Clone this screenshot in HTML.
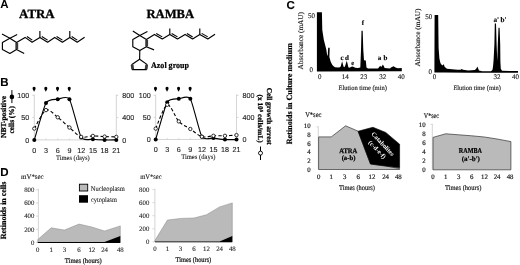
<!DOCTYPE html><html><head><meta charset="utf-8"><style>html,body{margin:0;padding:0;background:#fff;width:520px;height:265px;overflow:hidden}svg{display:block;will-change:transform}text{text-rendering:geometricPrecision}</style></head><body>
<svg width="520" height="265" viewBox="0 0 520 265">
<rect width="520" height="265" fill="#fff"/>
<text x="0.3" y="7.7" font-family='"Liberation Sans", sans-serif' font-size="11.5" font-weight="bold" text-anchor="start" fill="#000" >A</text>
<text x="19.1" y="18.1" font-family='"Liberation Serif", serif' font-size="12.5" font-weight="bold" text-anchor="start" fill="#000" stroke="#000" stroke-width="0.3" textLength="35.6" lengthAdjust="spacingAndGlyphs">ATRA</text>
<text x="146.4" y="18.1" font-family='"Liberation Serif", serif' font-size="12.5" font-weight="bold" text-anchor="start" fill="#000" stroke="#000" stroke-width="0.3" textLength="47.8" lengthAdjust="spacingAndGlyphs">RAMBA</text>
<polyline points="9.9,38.2 16.5,42.6 16.5,49.4 9.9,53.4 2.4,49.4 2.4,42.6 9.9,38.2" fill="none" stroke="#000" stroke-width="1.15" stroke-linejoin="round" fill="none"/>
<line x1="9.9" y1="38.2" x2="2.0" y2="34.0" stroke="#000" stroke-width="1.15" />
<line x1="9.9" y1="38.2" x2="17.2" y2="34.4" stroke="#000" stroke-width="1.15" />
<line x1="16.5" y1="49.4" x2="24.2" y2="53.4" stroke="#000" stroke-width="1.15" />
<line x1="16.8" y1="42.9" x2="16.8" y2="49.1" stroke="#3a3a3a" stroke-width="2.8" />
<polyline points="16.5,42.6 25.1,37.4 32.1,42.2 39.9,37.4 47.6,42.2 54.7,37.4 62.4,42.2 69.8,37.4 77.2,42.2 84.6,37.2" fill="none" stroke="#000" stroke-width="1.15" stroke-linejoin="round" />
<line x1="39.9" y1="37.4" x2="39.9" y2="31.0" stroke="#000" stroke-width="1.15" />
<line x1="69.8" y1="37.4" x2="69.8" y2="31.0" stroke="#000" stroke-width="1.15" />
<line x1="26.96" y1="36.49" x2="32.28" y2="40.14" stroke="#000" stroke-width="1.1" />
<line x1="41.78" y1="36.45" x2="47.63" y2="40.10" stroke="#000" stroke-width="1.1" />
<line x1="56.58" y1="36.45" x2="62.43" y2="40.10" stroke="#000" stroke-width="1.1" />
<line x1="71.67" y1="36.47" x2="77.29" y2="40.11" stroke="#000" stroke-width="1.1" />
<polyline points="139.8,35.4 146.4,39.6 146.4,46.7 139.8,50.5 132.8,46.7 132.8,39.6 139.8,35.4" fill="none" stroke="#000" stroke-width="1.15" stroke-linejoin="round" />
<line x1="139.8" y1="35.4" x2="132.8" y2="31.0" stroke="#000" stroke-width="1.15" />
<line x1="139.8" y1="35.4" x2="147.4" y2="31.4" stroke="#000" stroke-width="1.15" />
<line x1="146.4" y1="46.7" x2="154.0" y2="49.9" stroke="#000" stroke-width="1.15" />
<line x1="146.70000000000002" y1="39.9" x2="146.70000000000002" y2="46.400000000000006" stroke="#3a3a3a" stroke-width="2.8" />
<polyline points="146.4,39.6 154.4,34.4 162.3,39.0 169.8,34.4 177.5,39.0 185.1,34.4 192.6,39.0 199.8,34.4 207.8,39.0 215.0,34.2" fill="none" stroke="#000" stroke-width="1.15" stroke-linejoin="round" />
<line x1="169.8" y1="34.4" x2="169.8" y2="28.4" stroke="#000" stroke-width="1.15" />
<line x1="199.8" y1="34.4" x2="199.8" y2="28.4" stroke="#000" stroke-width="1.15" />
<line x1="156.25" y1="33.40" x2="162.26" y2="36.89" stroke="#000" stroke-width="1.1" />
<line x1="171.65" y1="33.41" x2="177.50" y2="36.90" stroke="#000" stroke-width="1.1" />
<line x1="186.94" y1="33.42" x2="192.64" y2="36.91" stroke="#000" stroke-width="1.1" />
<line x1="201.66" y1="33.39" x2="207.74" y2="36.89" stroke="#000" stroke-width="1.1" />
<line x1="139.8" y1="50.5" x2="139.6" y2="59.2" stroke="#000" stroke-width="1.15" />
<polygon points="139.6,59.2 146.9,64.4 146.3,69.6 132.5,69.6 131.9,64.4" fill="none" stroke="#000" stroke-width="1.15" stroke-linejoin="round"/>
<line x1="146.70000000000002" y1="64.80000000000001" x2="146.10000000000002" y2="69.19999999999999" stroke="#3a3a3a" stroke-width="2.8" />
<line x1="132.1" y1="64.80000000000001" x2="132.7" y2="69.19999999999999" stroke="#3a3a3a" stroke-width="2.8" />
<text x="151" y="68.1" font-family='"Liberation Serif", serif' font-size="8.6" font-weight="bold" text-anchor="start" fill="#000" stroke="#000" stroke-width="0.2" textLength="38" lengthAdjust="spacingAndGlyphs">Azol group</text>
<text x="0.3" y="86.4" font-family='"Liberation Sans", sans-serif' font-size="11.5" font-weight="bold" text-anchor="start" fill="#000" stroke="#000" stroke-width="0.12" >B</text>
<line x1="34.3" y1="94.8" x2="34.3" y2="139.9" stroke="#d0d0d0" stroke-width="0.9" />
<line x1="34.3" y1="139.9" x2="116.3" y2="139.9" stroke="#d0d0d0" stroke-width="0.9" />
<line x1="116.3" y1="94.5" x2="116.3" y2="139.9" stroke="#d0d0d0" stroke-width="0.9" />
<line x1="32.3" y1="95.3" x2="34.3" y2="95.3" stroke="#d0d0d0" stroke-width="0.9" />
<line x1="116.3" y1="95.3" x2="118.3" y2="95.3" stroke="#d0d0d0" stroke-width="0.9" />
<line x1="32.3" y1="117.6" x2="34.3" y2="117.6" stroke="#d0d0d0" stroke-width="0.9" />
<line x1="116.3" y1="117.6" x2="118.3" y2="117.6" stroke="#d0d0d0" stroke-width="0.9" />
<line x1="46.01428571428571" y1="139.9" x2="46.01428571428571" y2="138.4" stroke="#d0d0d0" stroke-width="0.8" />
<line x1="57.72857142857143" y1="139.9" x2="57.72857142857143" y2="138.4" stroke="#d0d0d0" stroke-width="0.8" />
<line x1="69.44285714285715" y1="139.9" x2="69.44285714285715" y2="138.4" stroke="#d0d0d0" stroke-width="0.8" />
<line x1="81.15714285714284" y1="139.9" x2="81.15714285714284" y2="138.4" stroke="#d0d0d0" stroke-width="0.8" />
<line x1="92.87142857142857" y1="139.9" x2="92.87142857142857" y2="138.4" stroke="#d0d0d0" stroke-width="0.8" />
<line x1="104.58571428571429" y1="139.9" x2="104.58571428571429" y2="138.4" stroke="#d0d0d0" stroke-width="0.8" />
<path d="M34.10,86.80 C35.15,86.80 35.67,87.60 35.60,88.60 C35.45,89.80 34.50,90.90 34.10,91.80 C33.70,90.90 32.75,89.80 32.60,88.60 C32.52,87.60 33.05,86.80 34.10,86.80 Z" fill="#000"/>
<path d="M45.81,86.80 C46.86,86.80 47.39,87.60 47.31,88.60 C47.16,89.80 46.21,90.90 45.81,91.80 C45.41,90.90 44.46,89.80 44.31,88.60 C44.24,87.60 44.76,86.80 45.81,86.80 Z" fill="#000"/>
<path d="M57.53,86.80 C58.58,86.80 59.10,87.60 59.03,88.60 C58.88,89.80 57.93,90.90 57.53,91.80 C57.13,90.90 56.18,89.80 56.03,88.60 C55.95,87.60 56.48,86.80 57.53,86.80 Z" fill="#000"/>
<path d="M69.24,86.80 C70.29,86.80 70.82,87.60 70.74,88.60 C70.59,89.80 69.64,90.90 69.24,91.80 C68.84,90.90 67.89,89.80 67.74,88.60 C67.67,87.60 68.19,86.80 69.24,86.80 Z" fill="#000"/>
<text x="34.3" y="152.5" font-family='"Liberation Sans", sans-serif' font-size="7.2" font-weight="normal" text-anchor="middle" fill="#222" stroke="#222" stroke-width="0.12" >0</text>
<text x="46.0" y="152.5" font-family='"Liberation Sans", sans-serif' font-size="7.2" font-weight="normal" text-anchor="middle" fill="#222" stroke="#222" stroke-width="0.12" >3</text>
<text x="57.7" y="152.5" font-family='"Liberation Sans", sans-serif' font-size="7.2" font-weight="normal" text-anchor="middle" fill="#222" stroke="#222" stroke-width="0.12" >6</text>
<text x="69.4" y="152.5" font-family='"Liberation Sans", sans-serif' font-size="7.2" font-weight="normal" text-anchor="middle" fill="#222" stroke="#222" stroke-width="0.12" >9</text>
<text x="81.2" y="152.5" font-family='"Liberation Sans", sans-serif' font-size="7.2" font-weight="normal" text-anchor="middle" fill="#222" stroke="#222" stroke-width="0.12" >12</text>
<text x="92.9" y="152.5" font-family='"Liberation Sans", sans-serif' font-size="7.2" font-weight="normal" text-anchor="middle" fill="#222" stroke="#222" stroke-width="0.12" >15</text>
<text x="104.6" y="152.5" font-family='"Liberation Sans", sans-serif' font-size="7.2" font-weight="normal" text-anchor="middle" fill="#222" stroke="#222" stroke-width="0.12" >18</text>
<text x="116.3" y="152.5" font-family='"Liberation Sans", sans-serif' font-size="7.2" font-weight="normal" text-anchor="middle" fill="#222" stroke="#222" stroke-width="0.12" >21</text>
<text x="29.299999999999997" y="97.89999999999999" font-family='"Liberation Sans", sans-serif' font-size="7.2" font-weight="normal" text-anchor="end" fill="#222" stroke="#222" stroke-width="0.12" >100</text>
<text x="29.299999999999997" y="120.19999999999999" font-family='"Liberation Sans", sans-serif' font-size="7.2" font-weight="normal" text-anchor="end" fill="#222" stroke="#222" stroke-width="0.12" >50</text>
<text x="29.299999999999997" y="142.5" font-family='"Liberation Sans", sans-serif' font-size="7.2" font-weight="normal" text-anchor="end" fill="#222" stroke="#222" stroke-width="0.12" >0</text>
<text x="122.3" y="97.89999999999999" font-family='"Liberation Sans", sans-serif' font-size="7.2" font-weight="normal" text-anchor="start" fill="#222" stroke="#222" stroke-width="0.12" >800</text>
<text x="122.3" y="120.19999999999999" font-family='"Liberation Sans", sans-serif' font-size="7.2" font-weight="normal" text-anchor="start" fill="#222" stroke="#222" stroke-width="0.12" >400</text>
<text x="122.3" y="142.5" font-family='"Liberation Sans", sans-serif' font-size="7.2" font-weight="normal" text-anchor="start" fill="#222" stroke="#222" stroke-width="0.12" >0</text>
<path d="M34.30,139.90 C35.47,136.20 43.67,106.97 46.01,102.90 C48.36,98.83 55.39,99.57 57.73,99.20 C60.07,98.83 67.10,95.38 69.44,99.20 C71.79,103.02 78.81,133.40 81.16,137.40 C83.50,141.40 90.53,138.95 92.87,139.20 C95.21,139.45 102.24,139.83 104.59,139.90 C106.93,139.97 115.13,139.90 116.30,139.90" fill="none" stroke="#000" stroke-width="1.1"/>
<circle cx="34.30" cy="139.90" r="2.0" fill="#000"/>
<circle cx="46.01" cy="102.90" r="2.0" fill="#000"/>
<circle cx="57.73" cy="99.20" r="2.0" fill="#000"/>
<circle cx="69.44" cy="99.20" r="2.0" fill="#000"/>
<circle cx="81.16" cy="137.40" r="2.0" fill="#000"/>
<circle cx="92.87" cy="139.20" r="2.0" fill="#000"/>
<circle cx="104.59" cy="139.90" r="2.0" fill="#000"/>
<circle cx="116.30" cy="139.90" r="2.0" fill="#000"/>
<path d="M34.30,128.60 C36.06,125.82 42.50,111.79 46.01,110.10 C49.53,108.41 54.21,114.69 57.73,117.30 C61.24,119.91 65.93,124.56 69.44,127.50 C72.96,130.44 77.64,135.64 81.16,136.90 C84.67,138.16 89.36,135.94 92.87,135.90 C96.39,135.86 101.07,136.45 104.59,136.60 C108.10,136.75 114.54,136.86 116.30,136.90" fill="none" stroke="#000" stroke-width="1.1" stroke-dasharray="3.2,2.2"/>
<circle cx="34.30" cy="128.60" r="1.7" fill="#fff" stroke="#000" stroke-width="0.8"/>
<circle cx="46.01" cy="110.10" r="1.7" fill="#fff" stroke="#000" stroke-width="0.8"/>
<circle cx="57.73" cy="117.30" r="1.7" fill="#fff" stroke="#000" stroke-width="0.8"/>
<circle cx="69.44" cy="127.50" r="1.7" fill="#fff" stroke="#000" stroke-width="0.8"/>
<circle cx="81.16" cy="136.90" r="1.7" fill="#fff" stroke="#000" stroke-width="0.8"/>
<circle cx="92.87" cy="135.90" r="1.7" fill="#fff" stroke="#000" stroke-width="0.8"/>
<circle cx="104.59" cy="136.60" r="1.7" fill="#fff" stroke="#000" stroke-width="0.8"/>
<circle cx="116.30" cy="136.90" r="1.7" fill="#fff" stroke="#000" stroke-width="0.8"/>
<text x="72.9" y="159.8" font-family='"Liberation Serif", serif' font-size="7.0" font-weight="normal" text-anchor="middle" fill="#222" stroke="#222" stroke-width="0.12" textLength="33.7" lengthAdjust="spacingAndGlyphs">Times (days)</text>
<line x1="155.7" y1="94.8" x2="155.7" y2="139.5" stroke="#d0d0d0" stroke-width="0.9" />
<line x1="155.7" y1="139.5" x2="236.5" y2="139.5" stroke="#d0d0d0" stroke-width="0.9" />
<line x1="236.5" y1="94.5" x2="236.5" y2="139.5" stroke="#d0d0d0" stroke-width="0.9" />
<line x1="153.7" y1="95.3" x2="155.7" y2="95.3" stroke="#d0d0d0" stroke-width="0.9" />
<line x1="236.5" y1="95.3" x2="238.5" y2="95.3" stroke="#d0d0d0" stroke-width="0.9" />
<line x1="153.7" y1="117.4" x2="155.7" y2="117.4" stroke="#d0d0d0" stroke-width="0.9" />
<line x1="236.5" y1="117.4" x2="238.5" y2="117.4" stroke="#d0d0d0" stroke-width="0.9" />
<line x1="167.24285714285713" y1="139.5" x2="167.24285714285713" y2="138.0" stroke="#d0d0d0" stroke-width="0.8" />
<line x1="178.78571428571428" y1="139.5" x2="178.78571428571428" y2="138.0" stroke="#d0d0d0" stroke-width="0.8" />
<line x1="190.32857142857142" y1="139.5" x2="190.32857142857142" y2="138.0" stroke="#d0d0d0" stroke-width="0.8" />
<line x1="201.87142857142857" y1="139.5" x2="201.87142857142857" y2="138.0" stroke="#d0d0d0" stroke-width="0.8" />
<line x1="213.4142857142857" y1="139.5" x2="213.4142857142857" y2="138.0" stroke="#d0d0d0" stroke-width="0.8" />
<line x1="224.95714285714286" y1="139.5" x2="224.95714285714286" y2="138.0" stroke="#d0d0d0" stroke-width="0.8" />
<path d="M155.50,86.80 C156.55,86.80 157.07,87.60 157.00,88.60 C156.85,89.80 155.90,90.90 155.50,91.80 C155.10,90.90 154.15,89.80 154.00,88.60 C153.93,87.60 154.45,86.80 155.50,86.80 Z" fill="#000"/>
<path d="M167.04,86.80 C168.09,86.80 168.62,87.60 168.54,88.60 C168.39,89.80 167.44,90.90 167.04,91.80 C166.64,90.90 165.69,89.80 165.54,88.60 C165.47,87.60 165.99,86.80 167.04,86.80 Z" fill="#000"/>
<path d="M178.59,86.80 C179.64,86.80 180.16,87.60 180.09,88.60 C179.94,89.80 178.99,90.90 178.59,91.80 C178.19,90.90 177.24,89.80 177.09,88.60 C177.01,87.60 177.54,86.80 178.59,86.80 Z" fill="#000"/>
<path d="M190.13,86.80 C191.18,86.80 191.70,87.60 191.63,88.60 C191.48,89.80 190.53,90.90 190.13,91.80 C189.73,90.90 188.78,89.80 188.63,88.60 C188.55,87.60 189.08,86.80 190.13,86.80 Z" fill="#000"/>
<text x="155.7" y="151.5" font-family='"Liberation Sans", sans-serif' font-size="7.2" font-weight="normal" text-anchor="middle" fill="#222" stroke="#222" stroke-width="0.12" >0</text>
<text x="167.2" y="151.5" font-family='"Liberation Sans", sans-serif' font-size="7.2" font-weight="normal" text-anchor="middle" fill="#222" stroke="#222" stroke-width="0.12" >3</text>
<text x="178.8" y="151.5" font-family='"Liberation Sans", sans-serif' font-size="7.2" font-weight="normal" text-anchor="middle" fill="#222" stroke="#222" stroke-width="0.12" >6</text>
<text x="190.3" y="151.5" font-family='"Liberation Sans", sans-serif' font-size="7.2" font-weight="normal" text-anchor="middle" fill="#222" stroke="#222" stroke-width="0.12" >9</text>
<text x="201.9" y="151.5" font-family='"Liberation Sans", sans-serif' font-size="7.2" font-weight="normal" text-anchor="middle" fill="#222" stroke="#222" stroke-width="0.12" >12</text>
<text x="213.4" y="151.5" font-family='"Liberation Sans", sans-serif' font-size="7.2" font-weight="normal" text-anchor="middle" fill="#222" stroke="#222" stroke-width="0.12" >15</text>
<text x="225.0" y="151.5" font-family='"Liberation Sans", sans-serif' font-size="7.2" font-weight="normal" text-anchor="middle" fill="#222" stroke="#222" stroke-width="0.12" >18</text>
<text x="236.5" y="151.5" font-family='"Liberation Sans", sans-serif' font-size="7.2" font-weight="normal" text-anchor="middle" fill="#222" stroke="#222" stroke-width="0.12" >21</text>
<text x="150.7" y="97.89999999999999" font-family='"Liberation Sans", sans-serif' font-size="7.2" font-weight="normal" text-anchor="end" fill="#222" stroke="#222" stroke-width="0.12" >100</text>
<text x="150.7" y="120.0" font-family='"Liberation Sans", sans-serif' font-size="7.2" font-weight="normal" text-anchor="end" fill="#222" stroke="#222" stroke-width="0.12" >50</text>
<text x="150.7" y="142.1" font-family='"Liberation Sans", sans-serif' font-size="7.2" font-weight="normal" text-anchor="end" fill="#222" stroke="#222" stroke-width="0.12" >0</text>
<text x="242.5" y="97.89999999999999" font-family='"Liberation Sans", sans-serif' font-size="7.2" font-weight="normal" text-anchor="start" fill="#222" stroke="#222" stroke-width="0.12" >800</text>
<text x="242.5" y="120.0" font-family='"Liberation Sans", sans-serif' font-size="7.2" font-weight="normal" text-anchor="start" fill="#222" stroke="#222" stroke-width="0.12" >400</text>
<text x="242.5" y="142.1" font-family='"Liberation Sans", sans-serif' font-size="7.2" font-weight="normal" text-anchor="start" fill="#222" stroke="#222" stroke-width="0.12" >0</text>
<path d="M155.70,139.50 C156.85,135.77 164.93,106.27 167.24,102.20 C169.55,98.13 176.48,99.14 178.79,98.80 C181.09,98.46 188.02,95.00 190.33,98.80 C192.64,102.60 199.56,132.87 201.87,136.80 C204.18,140.73 211.11,137.82 213.41,138.10 C215.72,138.38 222.65,139.45 224.96,139.60 C227.27,139.75 235.35,139.60 236.50,139.60" fill="none" stroke="#000" stroke-width="1.1"/>
<circle cx="155.70" cy="139.50" r="2.0" fill="#000"/>
<circle cx="167.24" cy="102.20" r="2.0" fill="#000"/>
<circle cx="178.79" cy="98.80" r="2.0" fill="#000"/>
<circle cx="190.33" cy="98.80" r="2.0" fill="#000"/>
<circle cx="201.87" cy="136.80" r="2.0" fill="#000"/>
<circle cx="213.41" cy="138.10" r="2.0" fill="#000"/>
<circle cx="224.96" cy="139.60" r="2.0" fill="#000"/>
<circle cx="236.50" cy="139.60" r="2.0" fill="#000"/>
<path d="M155.70,128.60 C157.43,125.03 163.78,105.88 167.24,104.80 C170.71,103.72 175.32,117.77 178.79,121.40 C182.25,125.03 186.87,126.70 190.33,129.00 C193.79,131.29 198.41,135.68 201.87,136.70 C205.33,137.72 209.95,135.94 213.41,135.80 C216.88,135.67 221.49,135.91 224.96,135.80 C228.42,135.70 234.77,135.20 236.50,135.10" fill="none" stroke="#000" stroke-width="1.1" stroke-dasharray="3.2,2.2"/>
<circle cx="155.70" cy="128.60" r="1.7" fill="#fff" stroke="#000" stroke-width="0.8"/>
<circle cx="167.24" cy="104.80" r="1.7" fill="#fff" stroke="#000" stroke-width="0.8"/>
<circle cx="178.79" cy="121.40" r="1.7" fill="#fff" stroke="#000" stroke-width="0.8"/>
<circle cx="190.33" cy="129.00" r="1.7" fill="#fff" stroke="#000" stroke-width="0.8"/>
<circle cx="201.87" cy="136.70" r="1.7" fill="#fff" stroke="#000" stroke-width="0.8"/>
<circle cx="213.41" cy="135.80" r="1.7" fill="#fff" stroke="#000" stroke-width="0.8"/>
<circle cx="224.96" cy="135.80" r="1.7" fill="#fff" stroke="#000" stroke-width="0.8"/>
<circle cx="236.50" cy="135.10" r="1.7" fill="#fff" stroke="#000" stroke-width="0.8"/>
<text x="198.3" y="159.4" font-family='"Liberation Serif", serif' font-size="7.0" font-weight="normal" text-anchor="middle" fill="#222" stroke="#222" stroke-width="0.12" textLength="34.3" lengthAdjust="spacingAndGlyphs">Times (days)</text>
<text transform="translate(5.6,138) rotate(-90)" font-family='"Liberation Serif", serif' font-size="7.6" font-weight="bold" stroke="#000" stroke-width="0.25" textLength="42.2" lengthAdjust="spacingAndGlyphs">NBT-positive</text>
<text transform="translate(14.0,133.4) rotate(-90) scale(0.1)" font-family='"Liberation Serif", serif' font-size="76" font-weight="bold" stroke="#000" stroke-width="2.5" textLength="274" lengthAdjust="spacingAndGlyphs">cells (%)</text>
<line x1="11.9" y1="90.1" x2="11.9" y2="103.1" stroke="#000" stroke-width="1.0" />
<circle cx="11.9" cy="96.9" r="2.3" fill="#000"/>
<text transform="translate(267.4,87.7) rotate(90)" font-family='"Liberation Serif", serif' font-size="7.4" font-weight="bold" stroke="#000" stroke-width="0.25" textLength="57" lengthAdjust="spacingAndGlyphs">Cell growth arrest</text>
<text transform="translate(258.0,94.5) rotate(90)" font-family='"Liberation Serif", serif' font-size="7.2" font-weight="bold" stroke="#000" stroke-width="0.25" textLength="48.2" lengthAdjust="spacingAndGlyphs">(x 10<tspan dy="-2.2" font-size="4.6">5</tspan><tspan dy="2.2"> cells/mL)</tspan></text>
<line x1="260.5" y1="146.5" x2="260.5" y2="160" stroke="#000" stroke-width="1.0" />
<circle cx="260.5" cy="153.1" r="2.0" fill="#fff" stroke="#000" stroke-width="0.9"/>
<text x="286.6" y="8.7" font-family='"Liberation Sans", sans-serif' font-size="11.5" font-weight="bold" text-anchor="start" fill="#000" stroke="#000" stroke-width="0.14" >C</text>
<text transform="translate(292.2,144.3) rotate(-90)" font-family='"Liberation Serif", serif' font-size="8.1" font-weight="bold" stroke="#000" stroke-width="0.2" textLength="101.2" lengthAdjust="spacingAndGlyphs">Retinoids in Culture medium</text>
<text transform="translate(303.4,69.5) rotate(-90)" font-family='"Liberation Serif", serif' font-size="7.3" fill="#222" stroke="#222" stroke-width="0.14" textLength="57.5" lengthAdjust="spacingAndGlyphs">Absorbance (mAU)</text>
<text x="315.0" y="17.6" font-family='"Liberation Serif", serif' font-size="7.0" font-weight="normal" text-anchor="end" fill="#222" stroke="#222" stroke-width="0.14" >50</text>
<text x="313.0" y="71.8" font-family='"Liberation Serif", serif' font-size="7.0" font-weight="normal" text-anchor="end" fill="#222" stroke="#222" stroke-width="0.14" >0</text>
<text x="319.8" y="79.4" font-family='"Liberation Serif", serif' font-size="7.0" font-weight="normal" text-anchor="middle" fill="#222" stroke="#222" stroke-width="0.14" >0</text>
<text x="345.3" y="79.4" font-family='"Liberation Serif", serif' font-size="7.0" font-weight="normal" text-anchor="middle" fill="#222" stroke="#222" stroke-width="0.14" >14</text>
<text x="363.7" y="79.4" font-family='"Liberation Serif", serif' font-size="7.0" font-weight="normal" text-anchor="middle" fill="#222" stroke="#222" stroke-width="0.14" >23</text>
<text x="382.8" y="79.4" font-family='"Liberation Serif", serif' font-size="7.0" font-weight="normal" text-anchor="middle" fill="#222" stroke="#222" stroke-width="0.14" >32</text>
<text x="401.2" y="79.4" font-family='"Liberation Serif", serif' font-size="7.0" font-weight="normal" text-anchor="middle" fill="#222" stroke="#222" stroke-width="0.14" >40</text>
<text x="362.7" y="89.9" font-family='"Liberation Serif", serif' font-size="6.7" font-weight="normal" text-anchor="middle" fill="#222" stroke="#222" stroke-width="0.14" textLength="48.4" lengthAdjust="spacingAndGlyphs">Elution time (min)</text>
<polygon points="316.9,71.4 316.9,12.3 321.9,12.3 322.3,30.0 323.8,39.8 326.3,49.6 327.2,55.4 327.7,55.4 328.2,47.7 329.7,47.7 329.4,57.0 330.7,61.8 332.2,64.7 333.6,66.2 335.0,67.2 338.0,67.4 340.0,67.3 340.8,66.2 341.5,63.6 342.1,61.2 342.8,63.8 343.6,66.8 344.4,67.2 345.3,65.6 346.1,62.8 346.8,60.8 347.5,63.6 348.3,67.0 348.9,67.8 350.0,67.4 351.4,66.8 352.5,66.5 353.8,66.9 355.2,67.7 358.0,68.0 360.3,67.5 361.0,50.0 361.5,30.7 362.7,30.7 363.3,50.0 364.0,60.3 365.8,60.5 366.5,67.5 368.0,68.6 378.0,68.6 379.2,67.0 380.2,65.7 381.2,67.0 382.0,66.0 382.9,64.5 384.0,66.5 384.6,68.0 390.0,68.4 391.0,67.5 393.5,66.2 396.0,67.8 398.0,68.3 401.8,68.1 401.8,71.2" fill="#000" stroke="none" stroke-width="0.8" stroke-linejoin="round"/>
<text x="342.0" y="59.8" font-family='"Liberation Serif", serif' font-size="7.0" font-weight="bold" text-anchor="middle" fill="#000" stroke="#000" stroke-width="0.14" >c</text>
<text x="347.0" y="59.8" font-family='"Liberation Serif", serif' font-size="7.0" font-weight="bold" text-anchor="middle" fill="#000" stroke="#000" stroke-width="0.14" >d</text>
<text x="352.6" y="65.0" font-family='"Liberation Serif", serif' font-size="6.6" font-weight="bold" text-anchor="middle" fill="#000" stroke="#000" stroke-width="0.14" >e</text>
<text x="363.0" y="25.0" font-family='"Liberation Serif", serif' font-size="6.8" font-weight="bold" text-anchor="middle" fill="#000" stroke="#000" stroke-width="0.14" >f</text>
<text x="379.6" y="59.8" font-family='"Liberation Serif", serif' font-size="7.0" font-weight="bold" text-anchor="middle" fill="#000" stroke="#000" stroke-width="0.14" >a</text>
<text x="385.5" y="59.8" font-family='"Liberation Serif", serif' font-size="7.0" font-weight="bold" text-anchor="middle" fill="#000" stroke="#000" stroke-width="0.14" >b</text>
<text transform="translate(420.0,66.5) rotate(-90)" font-family='"Liberation Serif", serif' font-size="7.2" fill="#222" stroke="#222" stroke-width="0.14" textLength="58" lengthAdjust="spacingAndGlyphs">Absorbance (mAU)</text>
<text x="432.2" y="19.4" font-family='"Liberation Serif", serif' font-size="7.0" font-weight="normal" text-anchor="end" fill="#222" stroke="#222" stroke-width="0.14" >50</text>
<text x="432.0" y="73.8" font-family='"Liberation Serif", serif' font-size="7.0" font-weight="normal" text-anchor="end" fill="#222" stroke="#222" stroke-width="0.14" >0</text>
<text x="434.5" y="79.4" font-family='"Liberation Serif", serif' font-size="7.0" font-weight="normal" text-anchor="middle" fill="#222" stroke="#222" stroke-width="0.14" >0</text>
<text x="496.9" y="79.4" font-family='"Liberation Serif", serif' font-size="7.0" font-weight="normal" text-anchor="middle" fill="#222" stroke="#222" stroke-width="0.14" >32</text>
<text x="515.5" y="79.4" font-family='"Liberation Serif", serif' font-size="7.0" font-weight="normal" text-anchor="middle" fill="#222" stroke="#222" stroke-width="0.14" >40</text>
<text x="477.2" y="89.9" font-family='"Liberation Serif", serif' font-size="6.7" font-weight="normal" text-anchor="middle" fill="#222" stroke="#222" stroke-width="0.14" textLength="47.5" lengthAdjust="spacingAndGlyphs">Elution time (min)</text>
<polygon points="434.4,72.6 434.6,15.0 438.2,15.0 438.6,48.0 439.4,58.6 440.4,63.0 441.6,64.8 442.6,65.6 443.2,64.4 443.9,64.4 444.6,66.8 445.7,67.8 447.0,68.7 452.0,69.2 457.5,69.8 460.5,69.8 461.8,69.0 463.0,69.8 468.3,70.5 474.8,70.0 476.4,68.5 477.3,66.6 478.2,68.6 479.0,70.5 482.3,71.3 491.0,71.2 492.4,70.0 493.0,67.0 493.6,60.0 494.4,44.0 494.8,23.4 496.0,23.4 496.6,44.0 497.3,60.9 497.8,44.0 498.5,27.8 499.6,27.8 500.2,44.0 500.4,62.0 500.8,68.8 502.0,70.8 518.0,71.0 518.0,72.8 500.0,72.8 470.0,72.7 445.0,72.6" fill="#000" stroke="none" stroke-width="0.8" stroke-linejoin="round"/>
<text x="496.2" y="22.2" font-family='"Liberation Serif", serif' font-size="7.2" font-weight="bold" text-anchor="middle" fill="#000" stroke="#000" stroke-width="0.14" >a'</text>
<text x="503.4" y="22.2" font-family='"Liberation Serif", serif' font-size="7.2" font-weight="bold" text-anchor="middle" fill="#000" stroke="#000" stroke-width="0.14" >b'</text>
<line x1="318.3" y1="126.4" x2="318.3" y2="169.5" stroke="#d0d0d0" stroke-width="0.9" />
<line x1="316.3" y1="126.8" x2="318.3" y2="126.8" stroke="#d0d0d0" stroke-width="0.8" />
<text x="310.6" y="171.6" font-family='"Liberation Serif", serif' font-size="6.8" font-weight="normal" text-anchor="end" fill="#222" stroke="#222" stroke-width="0.2" >0</text>
<text x="310.6" y="162.9" font-family='"Liberation Serif", serif' font-size="6.8" font-weight="normal" text-anchor="end" fill="#222" stroke="#222" stroke-width="0.2" >2</text>
<text x="310.6" y="154.2" font-family='"Liberation Serif", serif' font-size="6.8" font-weight="normal" text-anchor="end" fill="#222" stroke="#222" stroke-width="0.2" >4</text>
<text x="310.6" y="145.6" font-family='"Liberation Serif", serif' font-size="6.8" font-weight="normal" text-anchor="end" fill="#222" stroke="#222" stroke-width="0.2" >6</text>
<text x="310.6" y="136.9" font-family='"Liberation Serif", serif' font-size="6.8" font-weight="normal" text-anchor="end" fill="#222" stroke="#222" stroke-width="0.2" >8</text>
<text x="310.6" y="128.2" font-family='"Liberation Serif", serif' font-size="6.8" font-weight="normal" text-anchor="end" fill="#222" stroke="#222" stroke-width="0.2" >10</text>
<text x="305.2" y="116.5" font-family='"Liberation Serif", serif' font-size="7.2" font-weight="normal" text-anchor="start" fill="#222" stroke="#222" stroke-width="0.2" textLength="16.2" lengthAdjust="spacingAndGlyphs">V*sec</text>
<polygon points="318.6,169.5 318.6,136.9 331.3,136.9 345.6,125.8 358.1,131.2 370.5,164.0 385.6,166.0 399.6,168.6 399.6,169.5" fill="#bababa" stroke="#333" stroke-width="0.7" stroke-linejoin="round"/>
<polygon points="358.1,131.2 372.9,127.3 385.7,132.4 399.6,144.2 399.6,167.8 385.6,166.0 370.5,164.0" fill="#000" stroke="#000" stroke-width="0.6" stroke-linejoin="round"/>
<text x="348.2" y="153.4" font-family='"Liberation Serif", serif' font-size="7.0" font-weight="bold" text-anchor="middle" fill="#000" textLength="18" lengthAdjust="spacingAndGlyphs" stroke="#000" stroke-width="0.25">ATRA</text>
<text x="348.5" y="160.3" font-family='"Liberation Serif", serif' font-size="6.7" font-weight="bold" text-anchor="middle" fill="#000" stroke="#000" stroke-width="0.2">(a-b)</text>
<text transform="translate(382.4,144.3) rotate(47)" font-family='"Liberation Serif", serif' font-size="6.4" font-weight="bold" fill="#fff" text-anchor="middle" dominant-baseline="central" textLength="30.4" lengthAdjust="spacingAndGlyphs">Catabolites</text>
<text transform="translate(376.8,150.0) rotate(47)" font-family='"Liberation Serif", serif' font-size="6.5" font-weight="bold" fill="#fff" text-anchor="middle" dominant-baseline="central" textLength="22.4" lengthAdjust="spacingAndGlyphs">(c-d-e-f)</text>
<text x="318.6" y="178.9" font-family='"Liberation Serif", serif' font-size="6.8" font-weight="normal" text-anchor="middle" fill="#222" stroke="#222" stroke-width="0.2" >0</text>
<text x="331.3" y="178.9" font-family='"Liberation Serif", serif' font-size="6.8" font-weight="normal" text-anchor="middle" fill="#222" stroke="#222" stroke-width="0.2" >1</text>
<text x="344.8" y="178.9" font-family='"Liberation Serif", serif' font-size="6.8" font-weight="normal" text-anchor="middle" fill="#222" stroke="#222" stroke-width="0.2" >3</text>
<text x="358.1" y="178.9" font-family='"Liberation Serif", serif' font-size="6.8" font-weight="normal" text-anchor="middle" fill="#222" stroke="#222" stroke-width="0.2" >6</text>
<text x="371.9" y="178.9" font-family='"Liberation Serif", serif' font-size="6.8" font-weight="normal" text-anchor="middle" fill="#222" stroke="#222" stroke-width="0.2" >12</text>
<text x="385.6" y="178.9" font-family='"Liberation Serif", serif' font-size="6.8" font-weight="normal" text-anchor="middle" fill="#222" stroke="#222" stroke-width="0.2" >24</text>
<text x="398.3" y="178.9" font-family='"Liberation Serif", serif' font-size="6.8" font-weight="normal" text-anchor="middle" fill="#222" stroke="#222" stroke-width="0.2" >48</text>
<text x="357.0" y="190.0" font-family='"Liberation Serif", serif' font-size="7.2" font-weight="normal" text-anchor="middle" fill="#222" stroke="#222" stroke-width="0.2" textLength="36" lengthAdjust="spacingAndGlyphs">Times (hours)</text>
<line x1="432.3" y1="123.8" x2="432.3" y2="169.8" stroke="#d0d0d0" stroke-width="0.9" />
<line x1="430.5" y1="124.3" x2="432.3" y2="124.3" stroke="#d0d0d0" stroke-width="0.8" />
<text x="425.6" y="171.6" font-family='"Liberation Serif", serif' font-size="6.8" font-weight="normal" text-anchor="end" fill="#222" stroke="#222" stroke-width="0.2" >0</text>
<text x="425.6" y="162.6" font-family='"Liberation Serif", serif' font-size="6.8" font-weight="normal" text-anchor="end" fill="#222" stroke="#222" stroke-width="0.2" >2</text>
<text x="425.6" y="153.6" font-family='"Liberation Serif", serif' font-size="6.8" font-weight="normal" text-anchor="end" fill="#222" stroke="#222" stroke-width="0.2" >4</text>
<text x="425.6" y="144.6" font-family='"Liberation Serif", serif' font-size="6.8" font-weight="normal" text-anchor="end" fill="#222" stroke="#222" stroke-width="0.2" >6</text>
<text x="425.6" y="135.6" font-family='"Liberation Serif", serif' font-size="6.8" font-weight="normal" text-anchor="end" fill="#222" stroke="#222" stroke-width="0.2" >8</text>
<text x="425.6" y="126.6" font-family='"Liberation Serif", serif' font-size="6.8" font-weight="normal" text-anchor="end" fill="#222" stroke="#222" stroke-width="0.2" >10</text>
<text x="423.8" y="117.8" font-family='"Liberation Serif", serif' font-size="7.2" font-weight="normal" text-anchor="start" fill="#222" stroke="#222" stroke-width="0.2" textLength="15.0" lengthAdjust="spacingAndGlyphs">V*sec</text>
<polygon points="433.0,169.8 433.0,137.4 445.7,133.8 458.7,134.8 471.7,135.8 484.4,137.0 497.1,139.0 510.9,141.6 510.9,169.8" fill="#bababa" stroke="#333" stroke-width="0.7" stroke-linejoin="round"/>
<text x="470.4" y="152.6" font-family='"Liberation Serif", serif' font-size="7.6" font-weight="bold" text-anchor="middle" fill="#000" stroke="#000" stroke-width="0.2" textLength="23.3" lengthAdjust="spacingAndGlyphs">RAMBA</text>
<text x="470.8" y="161.0" font-family='"Liberation Serif", serif' font-size="7.0" font-weight="bold" text-anchor="middle" fill="#000" stroke="#000" stroke-width="0.2" >(a'-b')</text>
<text x="433.0" y="179.2" font-family='"Liberation Serif", serif' font-size="6.8" font-weight="normal" text-anchor="middle" fill="#222" stroke="#222" stroke-width="0.2" >0</text>
<text x="445.7" y="179.2" font-family='"Liberation Serif", serif' font-size="6.8" font-weight="normal" text-anchor="middle" fill="#222" stroke="#222" stroke-width="0.2" >1</text>
<text x="458.7" y="179.2" font-family='"Liberation Serif", serif' font-size="6.8" font-weight="normal" text-anchor="middle" fill="#222" stroke="#222" stroke-width="0.2" >3</text>
<text x="471.7" y="179.2" font-family='"Liberation Serif", serif' font-size="6.8" font-weight="normal" text-anchor="middle" fill="#222" stroke="#222" stroke-width="0.2" >6</text>
<text x="484.4" y="179.2" font-family='"Liberation Serif", serif' font-size="6.8" font-weight="normal" text-anchor="middle" fill="#222" stroke="#222" stroke-width="0.2" >12</text>
<text x="497.1" y="179.2" font-family='"Liberation Serif", serif' font-size="6.8" font-weight="normal" text-anchor="middle" fill="#222" stroke="#222" stroke-width="0.2" >24</text>
<text x="510.1" y="179.2" font-family='"Liberation Serif", serif' font-size="6.8" font-weight="normal" text-anchor="middle" fill="#222" stroke="#222" stroke-width="0.2" >48</text>
<text x="463.2" y="189.6" font-family='"Liberation Serif", serif' font-size="7.2" font-weight="normal" text-anchor="middle" fill="#222" stroke="#222" stroke-width="0.2" textLength="36.3" lengthAdjust="spacingAndGlyphs">Times (hours)</text>
<text x="0.3" y="176.4" font-family='"Liberation Sans", sans-serif' font-size="11.5" font-weight="bold" text-anchor="start" fill="#000" stroke="#000" stroke-width="0.1" >D</text>
<text transform="translate(6.4,239.2) rotate(-90)" font-family='"Liberation Serif", serif' font-size="8.0" font-weight="bold" stroke="#000" stroke-width="0.2" textLength="57.6" lengthAdjust="spacingAndGlyphs">Retinoids in cells</text>
<line x1="38.4" y1="188.8" x2="38.4" y2="242.4" stroke="#d0d0d0" stroke-width="0.9" />
<line x1="35.9" y1="242.4" x2="38.4" y2="242.4" stroke="#d0d0d0" stroke-width="0.8" />
<text x="34.4" y="244.7" font-family='"Liberation Serif", serif' font-size="6.8" font-weight="normal" text-anchor="end" fill="#222" stroke="#222" stroke-width="0.1" >0</text>
<line x1="35.9" y1="229.25" x2="38.4" y2="229.25" stroke="#d0d0d0" stroke-width="0.8" />
<text x="34.4" y="231.6" font-family='"Liberation Serif", serif' font-size="6.8" font-weight="normal" text-anchor="end" fill="#222" stroke="#222" stroke-width="0.1" >200</text>
<line x1="35.9" y1="216.10000000000002" x2="38.4" y2="216.10000000000002" stroke="#d0d0d0" stroke-width="0.8" />
<text x="34.4" y="218.4" font-family='"Liberation Serif", serif' font-size="6.8" font-weight="normal" text-anchor="end" fill="#222" stroke="#222" stroke-width="0.1" >400</text>
<line x1="35.9" y1="202.95000000000002" x2="38.4" y2="202.95000000000002" stroke="#d0d0d0" stroke-width="0.8" />
<text x="34.4" y="205.3" font-family='"Liberation Serif", serif' font-size="6.8" font-weight="normal" text-anchor="end" fill="#222" stroke="#222" stroke-width="0.1" >600</text>
<line x1="35.9" y1="189.8" x2="38.4" y2="189.8" stroke="#d0d0d0" stroke-width="0.8" />
<text x="34.4" y="192.1" font-family='"Liberation Serif", serif' font-size="6.8" font-weight="normal" text-anchor="end" fill="#222" stroke="#222" stroke-width="0.1" >800</text>
<text x="21.0" y="179.4" font-family='"Liberation Serif", serif' font-size="7.2" font-weight="normal" text-anchor="start" fill="#111" stroke="#111" stroke-width="0.1" textLength="22.7" lengthAdjust="spacingAndGlyphs">mV*sec</text>
<polygon points="37.8,242.4 37.8,239.5 51.2,227.8 64.4,230.1 79.0,224.1 91.8,227.0 104.6,231.0 120.3,225.9 120.3,242.4" fill="#bababa" stroke="#888" stroke-width="0.5" stroke-linejoin="round"/>
<polygon points="37.8,242.0 37.8,242.0 51.2,242.0 64.4,242.0 79.0,242.0 91.8,242.0 104.6,242.0 120.3,236.1 120.3,242.9 37.8,242.9" fill="#000" stroke="none" stroke-width="0.8" stroke-linejoin="round"/>
<text x="37.8" y="252.0" font-family='"Liberation Serif", serif' font-size="6.8" font-weight="normal" text-anchor="middle" fill="#222" stroke="#222" stroke-width="0.1" >0</text>
<text x="51.2" y="252.0" font-family='"Liberation Serif", serif' font-size="6.8" font-weight="normal" text-anchor="middle" fill="#222" stroke="#222" stroke-width="0.1" >1</text>
<text x="64.4" y="252.0" font-family='"Liberation Serif", serif' font-size="6.8" font-weight="normal" text-anchor="middle" fill="#222" stroke="#222" stroke-width="0.1" >3</text>
<text x="79.0" y="252.0" font-family='"Liberation Serif", serif' font-size="6.8" font-weight="normal" text-anchor="middle" fill="#222" stroke="#222" stroke-width="0.1" >6</text>
<text x="91.8" y="252.0" font-family='"Liberation Serif", serif' font-size="6.8" font-weight="normal" text-anchor="middle" fill="#222" stroke="#222" stroke-width="0.1" >12</text>
<text x="104.6" y="252.0" font-family='"Liberation Serif", serif' font-size="6.8" font-weight="normal" text-anchor="middle" fill="#222" stroke="#222" stroke-width="0.1" >24</text>
<text x="120.3" y="252.0" font-family='"Liberation Serif", serif' font-size="6.8" font-weight="normal" text-anchor="middle" fill="#222" stroke="#222" stroke-width="0.1" >48</text>
<text x="83.25" y="262.5" font-family='"Liberation Serif", serif' font-size="7.2" font-weight="normal" text-anchor="middle" fill="#111" stroke="#111" stroke-width="0.22" textLength="36.9" lengthAdjust="spacingAndGlyphs">Times (hours)</text>
<line x1="154.9" y1="188.6" x2="154.9" y2="241.8" stroke="#d0d0d0" stroke-width="0.9" />
<line x1="152.4" y1="241.8" x2="154.9" y2="241.8" stroke="#d0d0d0" stroke-width="0.8" />
<text x="149.3" y="244.1" font-family='"Liberation Serif", serif' font-size="6.8" font-weight="normal" text-anchor="end" fill="#222" stroke="#222" stroke-width="0.1" >0</text>
<line x1="152.4" y1="228.75" x2="154.9" y2="228.75" stroke="#d0d0d0" stroke-width="0.8" />
<text x="149.3" y="231.1" font-family='"Liberation Serif", serif' font-size="6.8" font-weight="normal" text-anchor="end" fill="#222" stroke="#222" stroke-width="0.1" >200</text>
<line x1="152.4" y1="215.7" x2="154.9" y2="215.7" stroke="#d0d0d0" stroke-width="0.8" />
<text x="149.3" y="218.0" font-family='"Liberation Serif", serif' font-size="6.8" font-weight="normal" text-anchor="end" fill="#222" stroke="#222" stroke-width="0.1" >400</text>
<line x1="152.4" y1="202.65" x2="154.9" y2="202.65" stroke="#d0d0d0" stroke-width="0.8" />
<text x="149.3" y="205.0" font-family='"Liberation Serif", serif' font-size="6.8" font-weight="normal" text-anchor="end" fill="#222" stroke="#222" stroke-width="0.1" >600</text>
<line x1="152.4" y1="189.6" x2="154.9" y2="189.6" stroke="#d0d0d0" stroke-width="0.8" />
<text x="149.3" y="191.9" font-family='"Liberation Serif", serif' font-size="6.8" font-weight="normal" text-anchor="end" fill="#222" stroke="#222" stroke-width="0.1" >800</text>
<text x="140.3" y="179.4" font-family='"Liberation Serif", serif' font-size="7.2" font-weight="normal" text-anchor="start" fill="#111" stroke="#111" stroke-width="0.1" textLength="21.3" lengthAdjust="spacingAndGlyphs">mV*sec</text>
<polygon points="154.9,241.8 154.9,240.5 167.4,220.1 180.5,218.4 194.0,218.0 206.4,214.8 219.6,206.9 232.3,202.9 232.3,241.8" fill="#bababa" stroke="#888" stroke-width="0.5" stroke-linejoin="round"/>
<polygon points="154.9,241.4 154.9,241.4 167.4,241.4 180.5,241.4 194.0,241.4 206.4,241.4 219.6,241.4 232.3,236.0 232.3,242.3 154.9,242.3" fill="#000" stroke="none" stroke-width="0.8" stroke-linejoin="round"/>
<text x="154.9" y="251.4" font-family='"Liberation Serif", serif' font-size="6.8" font-weight="normal" text-anchor="middle" fill="#222" stroke="#222" stroke-width="0.1" >0</text>
<text x="167.4" y="251.4" font-family='"Liberation Serif", serif' font-size="6.8" font-weight="normal" text-anchor="middle" fill="#222" stroke="#222" stroke-width="0.1" >1</text>
<text x="180.5" y="251.4" font-family='"Liberation Serif", serif' font-size="6.8" font-weight="normal" text-anchor="middle" fill="#222" stroke="#222" stroke-width="0.1" >3</text>
<text x="194.0" y="251.4" font-family='"Liberation Serif", serif' font-size="6.8" font-weight="normal" text-anchor="middle" fill="#222" stroke="#222" stroke-width="0.1" >6</text>
<text x="206.4" y="251.4" font-family='"Liberation Serif", serif' font-size="6.8" font-weight="normal" text-anchor="middle" fill="#222" stroke="#222" stroke-width="0.1" >12</text>
<text x="219.6" y="251.4" font-family='"Liberation Serif", serif' font-size="6.8" font-weight="normal" text-anchor="middle" fill="#222" stroke="#222" stroke-width="0.1" >24</text>
<text x="232.3" y="251.4" font-family='"Liberation Serif", serif' font-size="6.8" font-weight="normal" text-anchor="middle" fill="#222" stroke="#222" stroke-width="0.1" >48</text>
<text x="193.4" y="261.90000000000003" font-family='"Liberation Serif", serif' font-size="7.2" font-weight="normal" text-anchor="middle" fill="#111" stroke="#111" stroke-width="0.22" textLength="35.7" lengthAdjust="spacingAndGlyphs">Times (hours)</text>
<rect x="79.4" y="184.2" width="8.3" height="6.8" fill="#bababa" stroke="#000" stroke-width="0.9"/>
<rect x="79.0" y="195.2" width="9" height="7.5" fill="#000"/>
<text x="90.8" y="190.9" font-family='"Liberation Serif", serif' font-size="7.2" font-weight="normal" text-anchor="start" fill="#222" stroke="#222" stroke-width="0.1" textLength="34" lengthAdjust="spacingAndGlyphs">Nucleoplasm</text>
<text x="91.0" y="201.6" font-family='"Liberation Serif", serif' font-size="7.2" font-weight="normal" text-anchor="start" fill="#222" stroke="#222" stroke-width="0.1" textLength="26" lengthAdjust="spacingAndGlyphs">cytoplasm</text>
</svg></body></html>
